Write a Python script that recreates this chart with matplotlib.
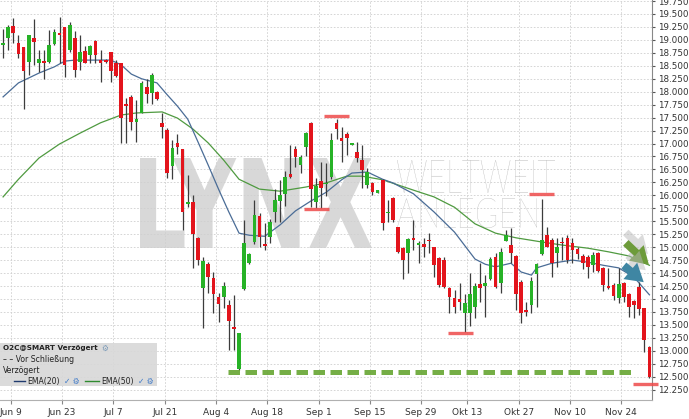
import numpy as np
import pandas as pd
import matplotlib
matplotlib.use("Agg")
from matplotlib import pyplot as plt
from matplotlib.patches import Rectangle, PathPatch, FancyArrowPatch
from matplotlib.textpath import TextPath
from matplotlib.font_manager import FontProperties
import matplotlib.transforms as mtransforms

# daily candles, 2014-06-05 .. 2014-12-02 (Xetra calendar, Oct 3 closed)
opens = [18.90, 19.04, 19.27, 18.94, 18.86, 18.57, 19.04, 18.55, 18.59, 18.57,
         18.92, 19.13, 19.25, 18.80, 19.04, 18.57, 18.79, 18.71, 18.98, 18.61,
         18.61, 18.77, 18.55, 18.55, 17.76, 17.90, 17.42, 17.59, 18.09, 17.98,
         17.99, 17.40, 17.26, 16.57, 17.01, 16.89, 15.83, 15.87, 15.18, 14.21,
         14.67, 14.40, 14.04, 14.04, 13.88, 13.46, 12.65, 14.19, 14.69, 15.10,
         15.60, 15.06, 15.20, 15.68, 15.89, 16.03, 16.41, 16.89, 16.59, 16.93,
         17.40, 15.87, 16.28, 16.22, 16.35, 17.40, 17.10, 17.18, 16.98, 16.84,
         16.68, 16.20, 16.24, 16.05, 16.30, 15.66, 15.95, 15.39, 14.98, 14.89,
         15.18, 15.04, 15.06, 15.14, 15.00, 14.79, 14.75, 14.21, 14.02, 14.00,
         13.73, 13.73, 13.84, 14.29, 14.25, 14.38, 14.81, 14.31, 15.12, 15.04,
         14.83, 14.33, 13.79, 13.88, 14.48, 14.87, 15.23, 15.14, 14.89, 15.10,
         15.18, 15.08, 14.96, 14.83, 14.81, 14.65, 14.89, 14.60, 14.25, 14.27,
         14.02, 14.31, 14.09, 13.96, 14.23, 13.82, 13.07]
highs = [19.21, 19.29, 19.42, 19.09, 18.86, 19.09, 19.40, 18.80, 18.80, 19.19,
         19.21, 19.44, 19.25, 19.35, 19.17, 19.09, 18.88, 18.90, 19.00, 18.80,
         18.63, 18.77, 18.61, 18.55, 17.88, 17.94, 17.84, 18.21, 18.25, 18.36,
         18.01, 17.59, 17.30, 17.07, 17.18, 16.89, 16.39, 16.01, 15.20, 14.81,
         14.71, 14.52, 14.11, 14.33, 13.98, 14.08, 13.34, 15.52, 14.89, 15.91,
         15.66, 15.47, 15.54, 16.12, 16.30, 16.47, 16.97, 16.95, 16.78, 17.22,
         17.42, 16.33, 16.64, 16.62, 17.20, 17.47, 17.32, 17.22, 17.00, 17.03,
         16.97, 16.53, 16.26, 16.10, 16.31, 15.91, 15.97, 15.39, 15.00, 15.18,
         15.52, 15.12, 15.18, 15.27, 15.00, 14.81, 14.81, 14.23, 14.17, 14.31,
         14.09, 14.50, 14.31, 14.69, 14.46, 14.81, 14.89, 14.98, 15.33, 15.37,
         14.85, 14.36, 13.94, 14.42, 14.69, 15.93, 15.39, 15.18, 15.18, 15.20,
         15.23, 15.18, 15.00, 14.87, 14.85, 14.91, 14.91, 14.62, 14.60, 14.31,
         14.60, 14.33, 14.11, 13.98, 14.33, 13.82, 13.09]
lows = [18.65, 18.80, 18.94, 18.65, 17.67, 18.32, 18.52, 18.38, 18.25, 18.55,
        18.90, 18.55, 18.28, 18.77, 18.28, 18.42, 18.55, 18.55, 18.55, 18.19,
        18.55, 18.19, 18.28, 17.01, 17.01, 17.26, 17.03, 17.59, 17.78, 17.76,
        17.84, 17.10, 16.33, 16.31, 16.80, 15.33, 15.77, 14.60, 14.65, 13.44,
        14.11, 13.73, 13.55, 13.82, 13.01, 13.01, 12.63, 14.17, 14.67, 15.06,
        15.00, 14.94, 15.08, 15.49, 15.49, 15.79, 16.33, 16.55, 16.43, 16.76,
        15.77, 15.75, 15.75, 15.99, 16.31, 17.09, 16.64, 16.78, 16.98, 16.64,
        16.14, 16.14, 16.01, 16.05, 15.33, 15.49, 15.49, 14.89, 14.38, 14.50,
        14.94, 14.69, 14.81, 14.89, 14.42, 14.23, 14.21, 13.73, 13.73, 13.79,
        13.36, 13.48, 13.63, 13.94, 13.65, 14.36, 14.21, 14.11, 15.12, 14.69,
        13.79, 13.53, 13.67, 13.73, 13.84, 14.85, 15.00, 14.42, 14.62, 14.75,
        14.69, 14.69, 14.77, 14.58, 14.40, 14.52, 14.52, 14.15, 14.19, 13.98,
        13.92, 13.94, 13.65, 13.63, 13.69, 12.98, 12.47]
closes = [18.94, 19.25, 19.13, 18.73, 18.40, 19.09, 18.96, 18.63, 18.55, 18.90,
          19.15, 19.09, 18.52, 19.29, 18.42, 18.77, 18.55, 18.88, 18.71, 18.55,
          18.57, 18.40, 18.30, 17.49, 17.72, 17.42, 17.47, 18.17, 17.96, 18.32,
          17.86, 17.32, 16.43, 16.91, 16.93, 15.68, 15.87, 15.25, 14.75, 14.73,
          14.42, 14.09, 13.90, 14.25, 13.57, 13.42, 13.34, 15.08, 14.87, 15.62,
          15.20, 15.02, 15.49, 15.91, 16.01, 16.35, 16.35, 16.74, 16.74, 17.20,
          16.12, 16.18, 16.14, 16.24, 17.07, 17.28, 17.05, 17.10, 17.00, 16.72,
          16.49, 16.45, 16.06, 16.10, 15.47, 15.68, 15.52, 14.91, 14.75, 15.16,
          15.14, 15.08, 15.00, 15.12, 14.65, 14.27, 14.23, 14.04, 13.84, 13.94,
          13.92, 14.09, 14.25, 14.21, 14.31, 14.77, 14.23, 14.91, 15.23, 14.89,
          14.09, 13.73, 13.75, 14.35, 14.67, 15.14, 15.00, 14.69, 15.00, 15.08,
          14.75, 14.94, 14.87, 14.69, 14.62, 14.85, 14.54, 14.27, 14.21, 14.05,
          14.29, 14.04, 13.84, 13.88, 13.81, 13.21, 12.49]

# moving averages (candle index -> value)
ema20_idx = [0, 3, 7, 10, 12, 14, 18, 21, 23, 25, 27, 30, 32, 34, 36, 38, 40, 42,
             44, 46, 48, 51, 54, 57, 60, 63, 66, 68, 71, 74, 76, 80, 84, 88, 92,
             94, 96, 99, 101, 103, 104, 107, 111, 114, 117, 120, 123, 126]
ema20 = [17.90, 18.17, 18.36, 18.48, 18.59, 18.61, 18.61, 18.61, 18.52, 18.34,
         18.25, 18.17, 17.94, 17.72, 17.47, 17.03, 16.58, 16.12, 15.68, 15.27,
         15.23, 15.21, 15.43, 15.70, 15.89, 16.06, 16.30, 16.43, 16.45, 16.31,
         16.24, 16.03, 15.68, 15.29, 14.77, 14.67, 14.62, 14.69, 14.52, 14.46,
         14.60, 14.69, 14.75, 14.71, 14.65, 14.60, 14.42, 14.08]
ema50_idx = [0, 3, 7, 11, 15, 19, 23, 26, 31, 34, 37, 40, 43, 46, 50, 54, 59, 63,
             67, 70, 74, 77, 80, 84, 88, 92, 96, 100, 105, 109, 114, 118, 122, 126]
ema50 = [15.97, 16.31, 16.72, 16.99, 17.20, 17.40, 17.55, 17.59, 17.61, 17.49,
         17.28, 17.01, 16.68, 16.31, 16.12, 16.08, 16.16, 16.24, 16.37, 16.37,
         16.30, 16.20, 16.10, 15.97, 15.77, 15.45, 15.27, 15.18, 15.10, 15.04,
         14.98, 14.91, 14.83, 14.65]

tick_dates = ["2014-06-09", "2014-06-23", "2014-07-07", "2014-07-21", "2014-08-04",
              "2014-08-18", "2014-09-01", "2014-09-15", "2014-09-29", "2014-10-13",
              "2014-10-27", "2014-11-10", "2014-11-24"]
tick_labels = ["Jun 9", "Jun 23", "Jul 7", "Jul 21", "Aug 4", "Aug 18", "Sep 1",
               "Sep 15", "Sep 29", "Okt 13", "Okt 27", "Nov 10", "Nov 24"]

# hand-drawn marks on the chart: (first idx, last idx, price)
red_marks = [(58.7, 63.6, 15.74), (62.6, 67.5, 17.54), (86.7, 91.6, 13.34),
             (102.5, 107.4, 16.03), (122.8, 127.7, 12.36)]
support = (43.9, 123.4, 12.60)

dates = pd.bdate_range("2014-06-05", "2014-12-02")
dates = dates[dates != pd.Timestamp("2014-10-03")]

W, H = 689, 419
fig = plt.figure(figsize=(W / 100, H / 100), dpi=100)
ax = fig.add_axes([0, 19 / H, 652 / W, 400 / H])

x = np.arange(len(opens))
o = np.array(opens); c = np.array(closes)
up = c >= o
red, green = "#e3141c", "#27b227"

# grid
ax.set_ylim(12.05, 19.77)
ax.set_xlim(-0.6, 126.5)
ax.set_yticks(np.arange(12.25, 19.76, 0.25))
ax.yaxis.set_major_formatter(matplotlib.ticker.FormatStrFormatter("%.3f"))
ax.yaxis.tick_right()
tpos = [dates.get_loc(pd.Timestamp(d)) - 0.5 for d in tick_dates]
ax.set_xticks(tpos)
ax.set_xticklabels(tick_labels)
ax.grid(True, color="#cfcfcf", lw=0.6, ls=(0, (2, 2)), zorder=0)
ax.set_axisbelow(True)
ax.tick_params(axis="y", labelsize=6.3, length=2.5, pad=1.5, colors="#555555", labelcolor="#333333")
ax.tick_params(axis="x", labelsize=6.5, length=3, pad=3, colors="#888888", labelcolor="#333333")
for s in ["left", "top"]:
    ax.spines[s].set_visible(False)
ax.spines["right"].set_color("#888888")
ax.spines["bottom"].set_color("#b0b0b0")


# watermark
def stamp(text, box, prop, color, alpha):
    tp = TextPath((0, 0), text, size=1, prop=prop)
    ext = tp.get_extents()
    x0, x1, y0, y1 = box
    fx0, fx1 = x0 / 652, x1 / 652
    fy0, fy1 = (400 - y1) / 400, (400 - y0) / 400
    tr = (mtransforms.Affine2D().translate(-ext.x0, -ext.y0)
          .scale((fx1 - fx0) / ext.width, (fy1 - fy0) / ext.height)
          .translate(fx0, fy0) + ax.transAxes)
    ax.add_patch(PathPatch(tp, transform=tr, fc=color, ec="none", alpha=alpha, zorder=0.5))


stamp("LYNX", (140, 372, 158, 248), FontProperties(family="DejaVu Sans", weight="bold"), "#d2d2d2", 0.85)
thin = FontProperties(family="Lato", weight="light")
stamp("WELTWEIT", (397, 555, 160, 193), thin, "#b4b4b4", 0.9)
stamp("ANLEGEN", (397, 537, 198, 228), thin, "#b4b4b4", 0.9)

# EMAs
ax.plot(ema50_idx, ema50, color="#4f9a40", lw=0.9, zorder=2)
ax.plot(ema20_idx, ema20, color="#4a6c96", lw=0.9, zorder=2)

# candles
ax.vlines(x, lows, highs, color="#3c3c3c", lw=0.9, zorder=3)
body = np.maximum(np.abs(c - o), 0.035)
ax.bar(x, body, bottom=np.minimum(o, c) - (body - np.abs(c - o)) / 2, width=0.72,
       color=np.where(up, green, red), zorder=4)

# annotations
for a, b, p in red_marks:
    ax.plot([a, b], [p, p], color="#ee4a4a", lw=2.4, alpha=0.85, solid_capstyle="butt",
            zorder=5, clip_on=False)
ax.plot([support[0], support[1]], [support[2]] * 2, color="#66a532", lw=3.6,
        ls=(0, (2.3, 1.1)), alpha=0.9, zorder=5)

arrows = [((121.0, 15.32), (126.1, 14.83), "#b8b8b8", 0.5),
          ((121.0, 15.12), (126.3, 14.62), "#6d9b3a", 1.0),
          ((121.4, 14.88), (125.7, 14.52), "#b8b8b8", 0.5),
          ((120.6, 14.68), (125.3, 14.29), "#3f86a3", 1.0)]
for p0, p1, col, al in arrows:
    ax.add_patch(FancyArrowPatch(p0, p1, arrowstyle="simple,head_length=0.9,head_width=1.1,tail_width=0.4",
                                 mutation_scale=14, color=col, alpha=al, lw=0, zorder=6,
                                 clip_on=False))

# legend panel (bottom left)
def fx(px):
    return px / W


def fy(py):
    return (H - py) / H


fig.patches.append(Rectangle((0, fy(386)), fx(157), fy(343) - fy(386), transform=fig.transFigure,
                             fc="#d8d8d8", ec="none", alpha=0.92, zorder=10))
tk = dict(fontsize=5.6, color="#222222", va="center", zorder=11)
fig.text(fx(3), fy(348), "O2C@SMART Verzögert", fontweight="bold",
         **{**tk, "fontsize": 5.2})
fig.text(fx(101), fy(348), "⚙", fontsize=5.5, color="#7a9ab8", va="center", zorder=11)
fig.text(fx(3), fy(359), "– – Vor Schließung", **tk)
fig.text(fx(3), fy(370), "Verzögert", **tk)
fig.lines.append(plt.Line2D([fx(14), fx(25)], [fy(381)] * 2, transform=fig.transFigure,
                            color="#1f3a6e", lw=1.0, zorder=11))
fig.text(fx(27), fy(381), "EMA(20)", **tk)
fig.text(fx(64), fy(381), "✓ ⚙", fontsize=5.5, color="#3c78c8", va="center", zorder=11)
fig.lines.append(plt.Line2D([fx(85), fx(99)], [fy(381)] * 2, transform=fig.transFigure,
                            color="#2f8a2f", lw=1.0, zorder=11))
fig.text(fx(101), fy(381), "EMA(50)", **tk)
fig.text(fx(138), fy(381), "✓ ⚙", fontsize=5.5, color="#3c78c8", va="center", zorder=11)

fig.savefig("out.png", dpi=100)
